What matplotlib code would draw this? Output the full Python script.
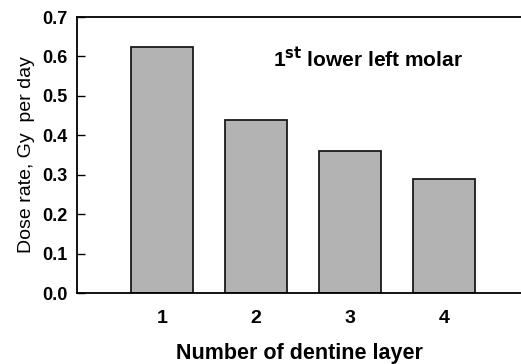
import matplotlib
matplotlib.use("Agg")
import matplotlib.pyplot as plt

layers = [1, 2, 3, 4]
dose_rate = [0.625, 0.439, 0.359, 0.289]
yticks = [0.0, 0.1, 0.2, 0.3, 0.4, 0.5, 0.6, 0.7]

plt.rcParams['font.family'] = ['Liberation Sans', 'DejaVu Sans']

fig = plt.figure(figsize=(5.21, 3.64), dpi=100)
ax = fig.add_axes([77/521, 1-293/364, 1-77/521, (293-17)/364])

ax.bar(layers, dose_rate, width=0.66, color='#b3b3b3', edgecolor='#1a1a1a', linewidth=1.3)
ax.set_xlim(0.096, 4.82)
ax.set_ylim(0, 0.7)
ax.set_xticks(layers)
ax.set_xticklabels([str(v) for v in layers], fontsize=14, fontweight='bold')
ax.set_yticks(yticks)
ax.set_yticklabels([f"{v:.1f}" for v in yticks], fontsize=13, fontweight='bold')
ax.tick_params(axis='y', direction='in', length=6, width=1, pad=7)
ax.tick_params(axis='x', length=0, pad=12)
for s in ['left', 'top', 'bottom']:
    ax.spines[s].set_linewidth(1.3)
ax.spines['right'].set_visible(False)

ax.set_xlabel("Number of dentine layer", fontsize=15.5, fontweight='bold', labelpad=12)
ax.set_ylabel("Dose rate, Gy  per day", fontsize=14, labelpad=5)
ax.text(2.18, 0.595, r"1$^{\mathbf{st}}$ lower left molar", fontsize=15, fontweight='bold', va='center', ha='left')

fig.savefig("out.png", dpi=100)
